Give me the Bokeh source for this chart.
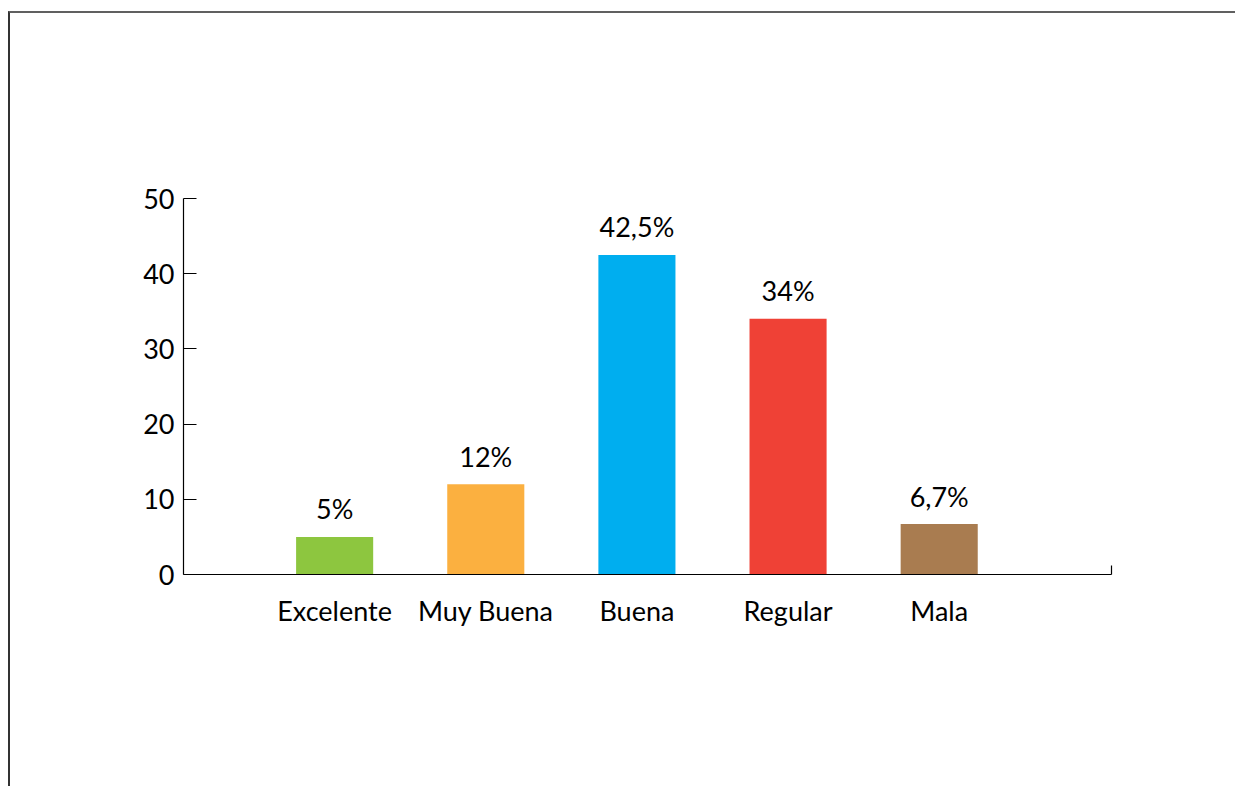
from bokeh.plotting import figure
from bokeh.models import Range1d, FixedTicker, ColumnDataSource
from bokeh.core.properties import value
from bokeh.embed import file_html
from bokeh.resources import INLINE

categories = ["Excelente", "Muy Buena", "Buena", "Regular", "Mala"]
values = [5, 12, 42.5, 34, 6.7]
value_labels = ["5%", "12%", "42,5%", "34%", "6,7%"]
colors = ["#8DC63F", "#FBB040", "#00AEEF", "#EF4136", "#A97C50"]
y_ticks = [0, 10, 20, 30, 40, 50]

positions = list(range(1, len(categories) + 1))
x_end = 6.14

src = ColumnDataSource(dict(x=positions, top=values, label=value_labels, color=colors))

FONT = "Lato"
FSIZE = "27px"

p = figure(
    output_backend="svg", toolbar_location=None,
    frame_width=928, frame_height=376,
    min_border_left=173, min_border_top=185, min_border_right=124, min_border_bottom=212,
    x_range=Range1d(0, x_end), y_range=Range1d(0, 50),
    styles={"border-top": "2px solid #606060", "border-left": "2px solid #333333",
            "margin-top": "11px", "margin-left": "8px"},
)
p.outline_line_color = None
p.background_fill_color = "white"
p.border_fill_color = "white"
p.grid.visible = False

p.vbar(x="x", top="top", bottom=0, width=0.51, color="color", line_color=None, source=src)
p.text(x="x", y="top", text="label", source=src, text_align="center",
       text_baseline="alphabetic", y_offset=-28, text_font=value(FONT),
       text_font_size=FSIZE, text_color="#000000")

# y axis
ya = p.yaxis[0]
ya.ticker = FixedTicker(ticks=y_ticks)
ya.major_tick_in = 13
ya.major_tick_out = 0
ya.minor_tick_in = 0
ya.minor_tick_out = 0
ya.axis_line_color = "#000000"
ya.axis_line_width = 1.2
ya.major_tick_line_color = "#000000"
ya.major_tick_line_width = 1.2
ya.major_label_text_font = FONT
ya.major_label_text_font_size = FSIZE
ya.major_label_text_color = "#000000"
ya.major_label_standoff = 9

# x axis
xa = p.xaxis[0]
xa.ticker = FixedTicker(ticks=positions, minor_ticks=[x_end])
xa.major_label_overrides = {pos: cat for pos, cat in zip(positions, categories)}
xa.major_tick_in = 0
xa.major_tick_out = 0
xa.minor_tick_in = 9
xa.minor_tick_out = 0
xa.minor_tick_line_color = "#000000"
xa.minor_tick_line_width = 1.2
xa.axis_line_color = "#000000"
xa.axis_line_width = 1.2
xa.major_label_text_font = FONT
xa.major_label_text_font_size = FSIZE
xa.major_label_text_color = "#000000"
xa.major_label_standoff = 19

open("out.html", "w").write(file_html(p, INLINE))
